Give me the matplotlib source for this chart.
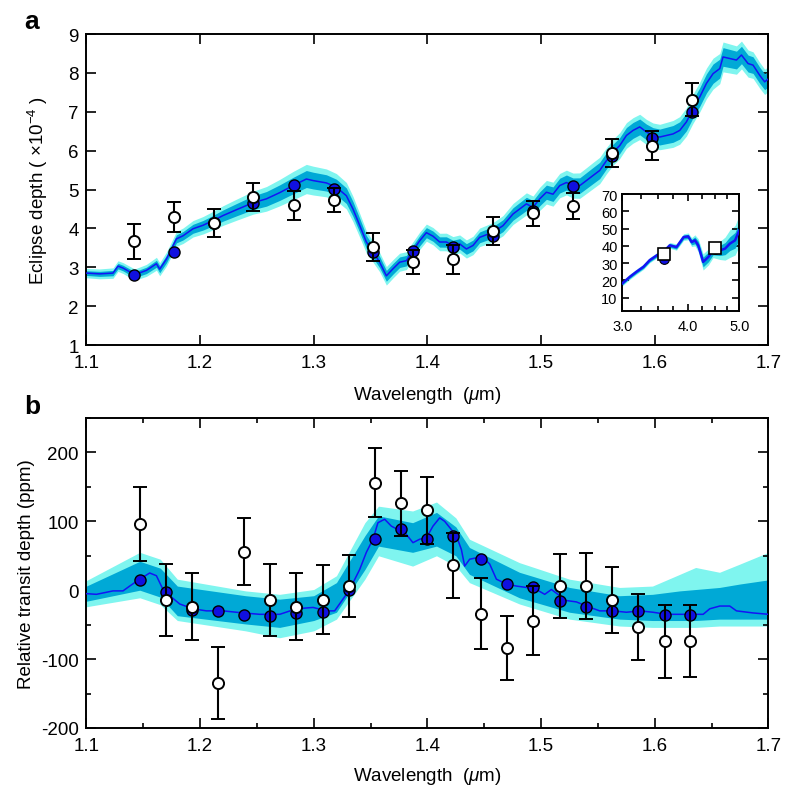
import numpy as np
import matplotlib
matplotlib.use("Agg")
import matplotlib.pyplot as plt
from matplotlib.ticker import MultipleLocator, FixedLocator, NullFormatter, FormatStrFormatter

plt.rcParams['font.family'] = ['Liberation Sans', 'DejaVu Sans']
plt.rcParams['mathtext.fontset'] = 'custom'
plt.rcParams['mathtext.rm'] = 'Liberation Sans'
plt.rcParams['mathtext.it'] = 'Liberation Sans:italic'
plt.rcParams['mathtext.bf'] = 'Liberation Sans:bold'
plt.rcParams['axes.unicode_minus'] = False

# ---------------- Panel a: eclipse depth (x1e-4) ----------------
ecl_lam = [1.1419, 1.1774, 1.2123, 1.2469, 1.2824, 1.3176, 1.3522, 1.3874,
           1.4225, 1.4577, 1.4929, 1.5281, 1.5627, 1.5979, 1.6331]
ecl_obs = [3.67, 4.30, 4.14, 4.82, 4.59, 4.72, 3.52, 3.13,
           3.20, 3.93, 4.39, 4.57, 5.93, 6.13, 7.31]
ecl_err = [0.45, 0.39, 0.37, 0.36, 0.37, 0.31, 0.35, 0.31,
           0.37, 0.37, 0.32, 0.34, 0.36, 0.37, 0.43]
ecl_mod = [2.80, 3.40, 4.14, 4.66, 5.12, 5.02, 3.40, 3.43,
           3.52, 3.80, 4.45, 5.08, 5.85, 6.33, 6.99]

mod_a_lam = [1.1000, 1.1117, 1.1234, 1.1278, 1.1322, 1.1425, 1.1528, 1.1616, 1.1645,
             1.1704, 1.1792, 1.1850, 1.1938, 1.2026, 1.2114, 1.2202, 1.2320, 1.2466,
             1.2584, 1.2701, 1.2818, 1.2935, 1.2994, 1.3111, 1.3199, 1.3287, 1.3345,
             1.3404, 1.3463, 1.3521, 1.3580, 1.3639, 1.3697, 1.3756, 1.3815, 1.3873,
             1.3932, 1.3991, 1.4049, 1.4108, 1.4167, 1.4225, 1.4284, 1.4343, 1.4401,
             1.4460, 1.4577, 1.4665, 1.4753, 1.4812, 1.4871, 1.4929, 1.4988, 1.5047,
             1.5105, 1.5164, 1.5223, 1.5281, 1.5340, 1.5399, 1.5457, 1.5516, 1.5575,
             1.5633, 1.5692, 1.5751, 1.5809, 1.5868, 1.5927, 1.5985, 1.6044, 1.6103,
             1.6161, 1.6220, 1.6279, 1.6337, 1.6396, 1.6455, 1.6513, 1.6572, 1.6601,
             1.6660, 1.6719, 1.6763, 1.6821, 1.6865, 1.6923, 1.6967, 1.7002]
mod_a_val = [2.85, 2.83, 2.85, 3.03, 2.98, 2.81, 2.92, 3.09, 2.95,
             3.21, 3.73, 3.81, 3.99, 4.08, 4.20, 4.33, 4.48, 4.66,
             4.76, 4.92, 5.10, 5.27, 5.23, 5.17, 5.06, 4.84, 4.50,
             4.08, 3.65, 3.40, 3.13, 2.78, 2.96, 3.13, 3.17, 3.43,
             3.68, 3.89, 3.80, 3.65, 3.65, 3.56, 3.60, 3.47, 3.56,
             3.77, 3.90, 4.07, 4.37, 4.50, 4.63, 4.54, 4.76, 4.93,
             4.88, 5.10, 5.18, 5.10, 5.10, 5.23, 5.36, 5.49, 5.74,
             5.96, 6.13, 6.39, 6.52, 6.61, 6.48, 6.39, 6.35, 6.39,
             6.43, 6.52, 6.74, 7.08, 7.38, 7.73, 7.98, 8.11, 8.41,
             8.37, 8.33, 8.46, 8.24, 8.20, 7.94, 7.77, 7.85]
# band half-widths (1 and 2 sigma) read at a few wavelengths
band_a_lam = [1.10, 1.15, 1.20, 1.25, 1.29, 1.33, 1.36, 1.40, 1.45, 1.50, 1.55, 1.60, 1.65, 1.70]
band_a_s1 = [0.06, 0.08, 0.12, 0.18, 0.22, 0.20, 0.14, 0.13, 0.14, 0.18, 0.21, 0.20, 0.25, 0.20]
band_a_s2 = [0.12, 0.15, 0.22, 0.30, 0.38, 0.34, 0.24, 0.22, 0.24, 0.30, 0.34, 0.32, 0.40, 0.32]

# inset (Spitzer)
ins_lam = [3.00, 3.10, 3.19, 3.29, 3.38, 3.49, 3.59, 3.69, 3.80, 3.92, 4.00,
           4.06, 4.12, 4.18, 4.27, 4.37, 4.46, 4.60, 4.70, 4.80, 4.91, 5.00]
ins_val = [18.3, 22.1, 25.0, 27.9, 31.7, 34.6, 36.5, 40.3, 39.3, 45.1, 45.5,
           42.2, 43.2, 40.3, 30.7, 33.6, 37.4, 37.4, 38.4, 41.3, 43.2, 48.9]
ins_band_lam = [3.0, 3.5, 4.0, 4.2, 4.3, 4.5, 4.8, 5.0]
ins_band_s1 = [0.8, 1.0, 1.2, 2.5, 3.0, 2.5, 4.0, 5.0]
ins_band_s2 = [1.5, 1.5, 2.0, 4.0, 5.0, 4.0, 8.0, 9.0]
ins_obs_lam = [3.6, 4.5]
ins_obs = [35.1, 39.0]
ins_mod = [32.6, 38.0]

# ---------------- Panel b: relative transit depth (ppm) ----------------
tr_lam = [1.1469, 1.1698, 1.1929, 1.2158, 1.2384, 1.2615, 1.2848, 1.3079, 1.3310,
          1.3539, 1.3768, 1.4000, 1.4229, 1.4469, 1.4700, 1.4932, 1.5164, 1.5393,
          1.5624, 1.5853, 1.6088, 1.6314]
tr_obs = [96, -14, -24, -135, 56, -14, -24, -14, 6,
          156, 126, 116, 36, -34, -84, -44, 6, 6,
          -14, -54, -74, -74]
tr_err = [54, 52, 49, 52, 49, 52, 49, 50, 45,
          50, 47, 49, 47, 51, 46, 50, 47, 48,
          48, 48, 53, 52]
tr_mod = [15, -3, -29, -30, -36, -37, -33, -31, 1,
          74, 89, 75, 79, 46, 9, 4, -15, -24,
          -30, -30, -36, -36]

mod_b_lam = [1.1000, 1.1088, 1.1176, 1.1234, 1.1322, 1.1381, 1.1469, 1.1557, 1.1616,
             1.1674, 1.1733, 1.1821, 1.1938, 1.2056, 1.2202, 1.2378, 1.2525, 1.2701,
             1.2847, 1.2994, 1.3111, 1.3184, 1.3257, 1.3316, 1.3404, 1.3463, 1.3521,
             1.3565, 1.3624, 1.3683, 1.3741, 1.3800, 1.3873, 1.3932, 1.3991, 1.4049,
             1.4108, 1.4152, 1.4196, 1.4255, 1.4299, 1.4328, 1.4372, 1.4431, 1.4504,
             1.4548, 1.4607, 1.4695, 1.4783, 1.4871, 1.4959, 1.5032, 1.5091, 1.5164,
             1.5223, 1.5311, 1.5399, 1.5516, 1.5633, 1.5751, 1.5868, 1.5985, 1.6103,
             1.6279, 1.6426, 1.6484, 1.6572, 1.6660, 1.6719, 1.6865, 1.7002]
mod_b_val = [-5, -6, -3, -1, -1, 6, 16, 25, 21,
             1, -8, -20, -27, -30, -30, -33, -35, -35,
             -27, -25, -30, -30, -13, 1, 30, 55, 74,
             98, 103, 93, 88, 84, 69, 74, 76, 93,
             105, 100, 91, 79, 59, 35, 45, 47, 45,
             38, 16, 9, 6, 4, 1, -6, 1, -8,
             -15, -17, -23, -30, -30, -32, -30, -32, -35,
             -35, -35, -27, -23, -23, -30, -33, -35]
band_b_lam = [1.100, 1.147, 1.165, 1.180, 1.240, 1.270, 1.300, 1.320, 1.345, 1.357,
              1.387, 1.408, 1.425, 1.437, 1.481, 1.525, 1.569, 1.598, 1.622, 1.636,
              1.657, 1.675, 1.700]
band_b_hi2 = [14, 55, 45, 16, -1, -6, 1, 21, 98, 122, 115, 128, 105, 74, 40, 16, 4, 6, 23, 33, 26, 38, 55]
band_b_hi1 = [6, 42, 32, 6, -8, -13, -8, 11, 79, 108, 98, 113, 92, 62, 26, 4, -8, -6, -1, 1, 4, 9, 15]
band_b_lo1 = [-16, 0, -10, -37, -49, -54, -44, -32, 30, 64, 55, 64, 50, 23, -11, -32, -42, -44, -44, -44, -42, -42, -42]
band_b_lo2 = [-24, -11, -21, -44, -59, -69, -59, -42, 16, 50, 35, 50, 35, 11, -20, -42, -52, -54, -54, -54, -52, -52, -52]

# ---------------- styles ----------------
C_LIGHT = '#7FF5EF'
C_DARK = '#00A9D6'
C_LINE = '#1414F5'
C_BLUE = '#1010E0'
FS = 13.5

fig = plt.figure(figsize=(8.0, 8.03), dpi=100)
axa = fig.add_axes([0.108, 0.5691, 0.8525, 0.3873])
axb = fig.add_axes([0.108, 0.0922, 0.8525, 0.3860])


def style(ax, fs=FS, xpad=6.5, ypad=5.5):
    ax.tick_params(which='both', direction='in', top=True, right=True,
                   labelsize=fs, width=1.2)
    ax.tick_params(which='major', length=7)
    ax.tick_params(which='minor', length=3.5)
    ax.tick_params(axis='x', pad=xpad)
    ax.tick_params(axis='y', pad=ypad)
    for s in ax.spines.values():
        s.set_linewidth(1.4)


# panel a
la = np.array(mod_a_lam)
va = np.array(mod_a_val)
s1 = np.interp(la, band_a_lam, band_a_s1)
s2 = np.interp(la, band_a_lam, band_a_s2)
axa.fill_between(la, va - s2, va + s2, color=C_LIGHT, lw=0, zorder=1)
axa.fill_between(la, va - s1, va + s1, color=C_DARK, lw=0, zorder=2)
axa.plot(la, va, color=C_LINE, lw=1.1, zorder=3)
axa.plot(ecl_lam, ecl_mod, 'o', ms=8, mfc=C_BLUE, mec='black', mew=1.0, zorder=4)
axa.errorbar(ecl_lam, ecl_obs, yerr=ecl_err, fmt='o', ms=8, mfc='white', mec='black',
             mew=1.4, ecolor='black', elinewidth=1.5, capsize=5, capthick=1.5, zorder=5)
axa.set_xlim(1.1, 1.7)
axa.set_ylim(1, 9)
axa.xaxis.set_major_locator(MultipleLocator(0.1))
axa.xaxis.set_major_formatter(FormatStrFormatter('%.1f'))
axa.yaxis.set_major_locator(MultipleLocator(1))
style(axa)
axa.set_xlabel(r'Wavelength  ($\mu$m)', fontsize=FS, labelpad=9)
axa.set_ylabel(r'Eclipse depth ( $\times10^{-4}$ )', fontsize=FS)
axa.yaxis.set_label_coords(-0.054, 0.5)

# inset
axi = fig.add_axes([0.778, 0.612, 0.146, 0.145])
li = np.array(ins_lam)
vi = np.array(ins_val)
i1 = np.interp(li, ins_band_lam, ins_band_s1)
i2 = np.interp(li, ins_band_lam, ins_band_s2)
axi.fill_between(li, vi - i2, vi + i2, color=C_LIGHT, lw=0, zorder=1)
axi.fill_between(li, vi - i1, vi + i1, color=C_DARK, lw=0, zorder=2)
axi.plot(li, vi, color=C_LINE, lw=1.8, zorder=3)
axi.plot(ins_obs_lam, ins_mod, 'o', ms=7, mfc=C_BLUE, mec='black', mew=0.8, zorder=4)
axi.plot(ins_obs_lam, ins_obs, 's', ms=8, mfc='white', mec='black', mew=1.2, zorder=5)
axi.set_xscale('log')
axi.set_xlim(3.0, 5.0)
axi.set_ylim(2.5, 70)
axi.xaxis.set_major_locator(FixedLocator([3.0, 4.0, 5.0]))
axi.xaxis.set_major_formatter(FormatStrFormatter('%.1f'))
axi.xaxis.set_minor_locator(FixedLocator([3.25, 3.5, 3.75, 4.25, 4.5, 4.75]))
axi.xaxis.set_minor_formatter(NullFormatter())
axi.yaxis.set_major_locator(MultipleLocator(10))
style(axi, fs=10.5, xpad=6, ypad=3.5)
axi.tick_params(which='major', length=5)
axi.tick_params(which='minor', length=3.5)

# panel b
axb.fill_between(band_b_lam, band_b_lo2, band_b_hi2, color=C_LIGHT, lw=0, zorder=1)
axb.fill_between(band_b_lam, band_b_lo1, band_b_hi1, color=C_DARK, lw=0, zorder=2)
axb.plot(mod_b_lam, mod_b_val, color=C_LINE, lw=1.1, zorder=3)
axb.plot(tr_lam, tr_mod, 'o', ms=8, mfc=C_BLUE, mec='black', mew=1.0, zorder=4)
axb.errorbar(tr_lam, tr_obs, yerr=tr_err, fmt='o', ms=8, mfc='white', mec='black',
             mew=1.4, ecolor='black', elinewidth=1.5, capsize=5, capthick=1.5, zorder=5)
axb.set_xlim(1.1, 1.7)
axb.set_ylim(-200, 250)
axb.xaxis.set_major_locator(MultipleLocator(0.1))
axb.xaxis.set_minor_locator(MultipleLocator(0.05))
axb.xaxis.set_major_formatter(FormatStrFormatter('%.1f'))
axb.yaxis.set_major_locator(FixedLocator([-200, -100, 0, 100, 200]))
axb.yaxis.set_minor_locator(MultipleLocator(50))
style(axb)
axb.set_xlabel(r'Wavelength  ($\mu$m)', fontsize=FS, labelpad=8)
axb.set_ylabel('Relative transit depth (ppm)', fontsize=FS)
axb.yaxis.set_label_coords(-0.075, 0.5)

fig.text(0.030, 1 - 22 / 803, 'a', fontsize=19, fontweight='bold', va='center', ha='left')
fig.text(0.030, 1 - 407 / 803, 'b', fontsize=19, fontweight='bold', va='center', ha='left')

fig.savefig('out.png', dpi=100)
